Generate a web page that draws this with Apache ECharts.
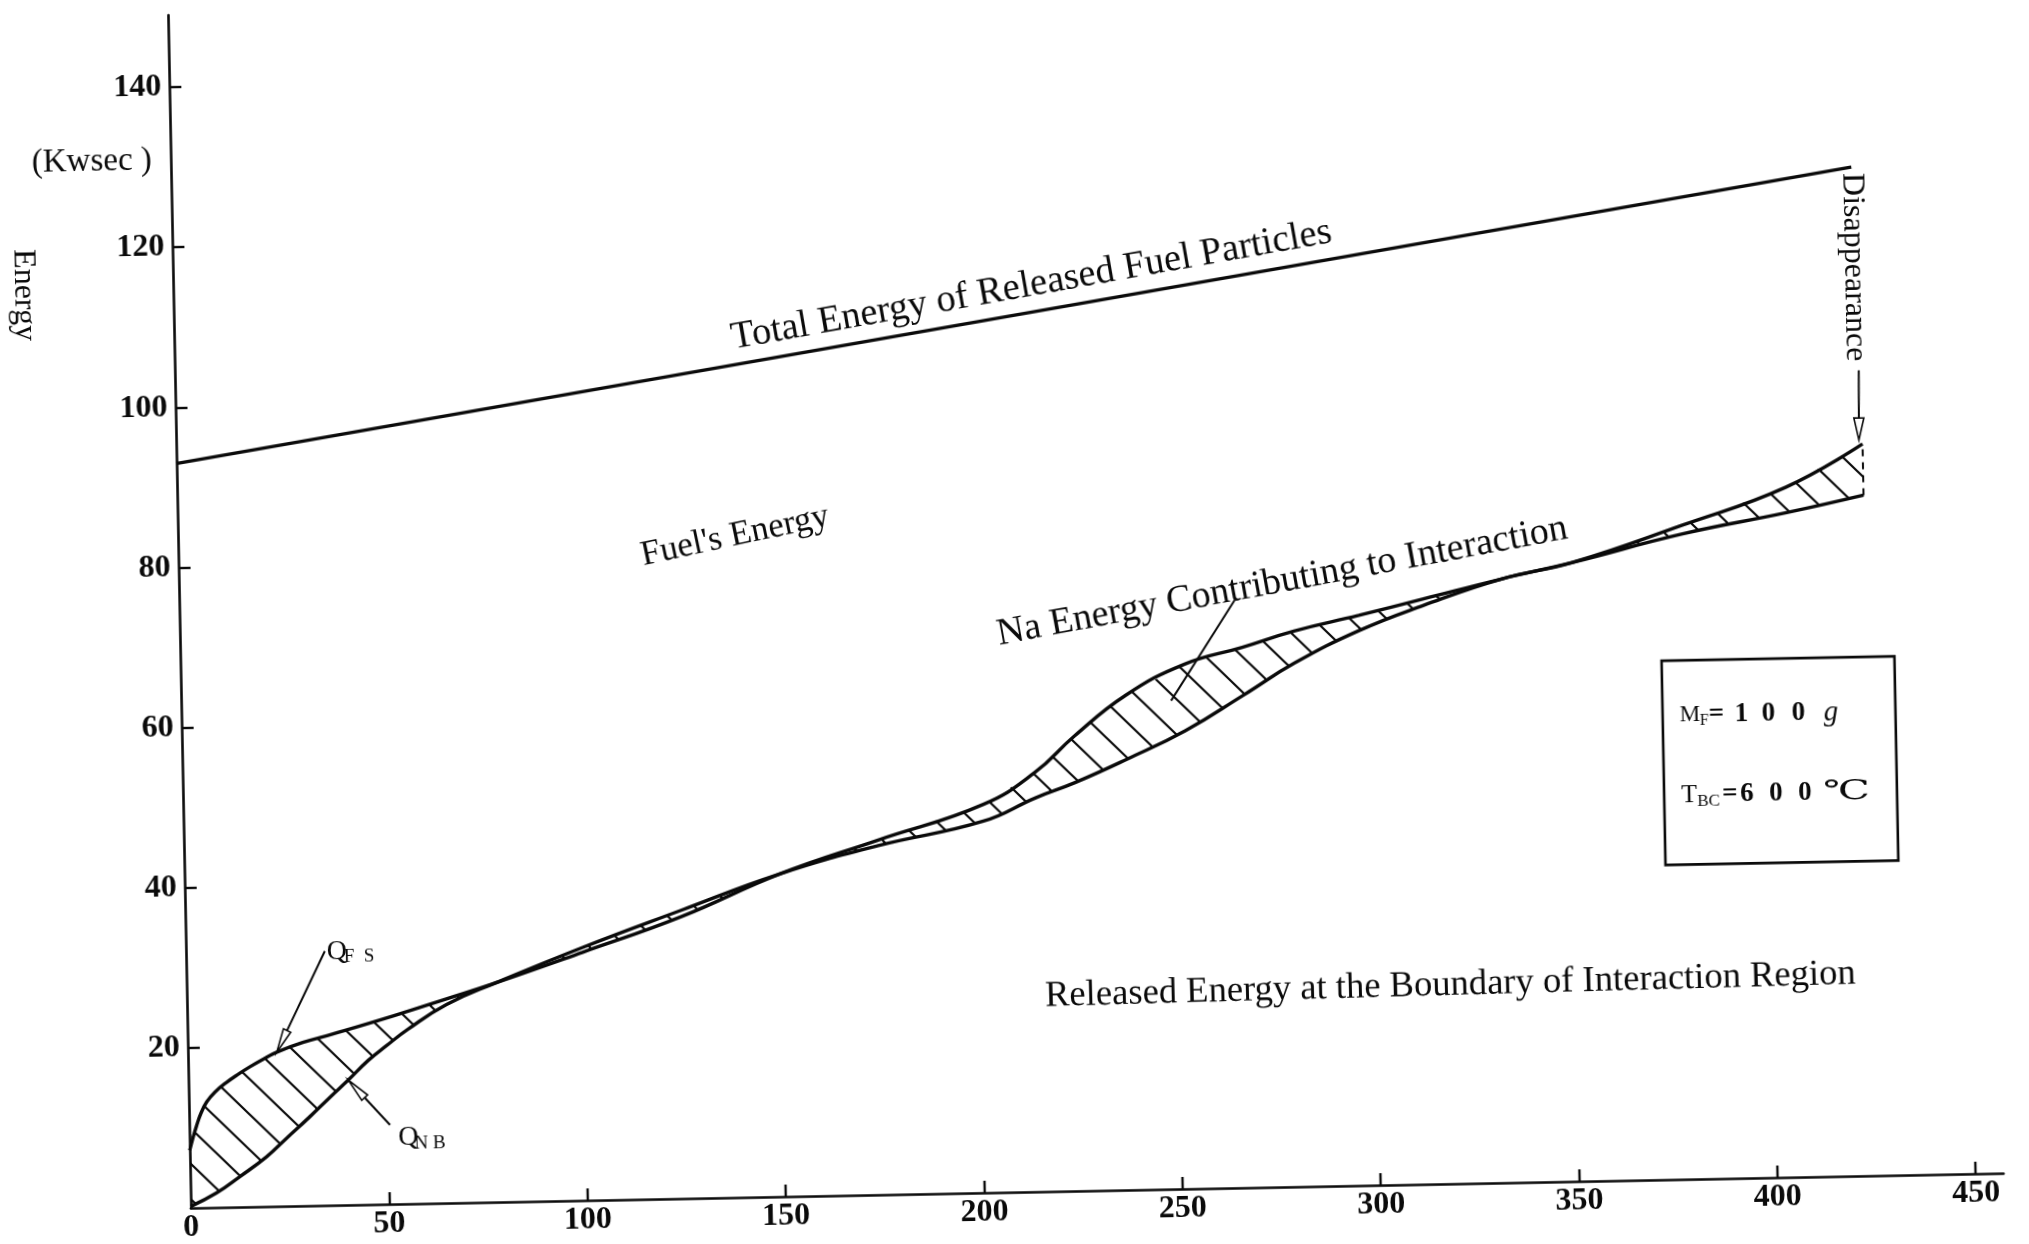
<!DOCTYPE html>
<html>
<head>
<meta charset="utf-8">
<script src="https://cdn.jsdelivr.net/npm/echarts@6/dist/echarts.min.js"></script>
<style>
  html, body { margin: 0; padding: 0; background: #fff; overflow: hidden; }
  /* the plate is printed slightly askew: rotate the whole figure about the axis origin */
  #chart { width: 2029px; height: 1244px; transform: rotate(-1.1deg); transform-origin: 191px 1215px; }
</style>
</head>
<body>
<div id="chart"></div>
<script>
// Axis tick values
const xTickValues = [0, 50, 100, 150, 200, 250, 300, 350, 400, 450];
const yTickValues = [20, 40, 60, 80, 100, 120, 140];

// Total energy of released fuel particles (Kwsec)
const totalEnergy = [[0, 93], [423.5, 126]];

// Q_FS curve
const qFS = [
  [0, 7.2], [0.9, 8.8], [1.8, 10.2], [3.0, 11.8], [4.5, 13.2], [6.6, 14.4], [9.6, 15.6],
  [12.6, 16.6], [15.6, 17.5], [18.9, 18.4], [22.4, 19.25], [29, 20.4], [36.7, 21.4],
  [51.9, 23.5], [65.4, 25.5], [78, 27.4], [100, 31.0], [125, 35.2],
  [150, 40.3], [175, 44.3], [201.7, 48.5], [214.9, 52.4], [224.9, 56.8], [238.1, 61.8],
  [252.9, 65.5], [267.7, 67.5], [280.8, 69.4], [297.2, 71.2], [313.6, 73.1], [333.3, 75.4],
  [351.3, 77.3], [379.2, 80.6], [405.5, 83.0], [425, 85.0]
];

// Q_NB curve
const qNB = [
  [0, 0.2], [6.5, 1.8], [12.5, 3.8], [19.3, 6.2], [24.5, 8.5], [30.4, 11.1],
  [35.6, 13.5], [40.3, 15.6], [45.4, 18.0], [50.1, 19.8], [55.6, 21.8], [65.4, 24.8],
  [78, 27.4], [100, 31.6], [125, 36.0], [150, 40.3], [175, 43.6], [201.6, 46.4],
  [214.9, 49.2], [224.9, 51.0], [238.1, 53.8], [252.9, 57.2], [267.7, 61.5], [280.8, 65.4],
  [297.2, 69.3], [313.6, 72.3], [333.3, 75.4], [351.3, 77.3], [379.2, 81.7], [405.5, 86.2],
  [425, 91.4]
];

const INK = '#0a0a0a';
const SERIF = '"Liberation Serif", "DejaVu Serif", "Noto Sans CJK JP", serif';
const deg = d => d * Math.PI / 180;

// diagonal hatching tile for the region between the two curves
const hatchTile = (() => {
  const T = 36, c = document.createElement('canvas');
  c.width = T; c.height = T;
  const g = c.getContext('2d');
  g.strokeStyle = INK; g.lineWidth = 2.2;
  g.beginPath();
  g.moveTo(-4, -4); g.lineTo(T + 4, T + 4);
  g.moveTo(T - 4, -4); g.lineTo(T + 4, 4);
  g.moveTo(-4, T - 4); g.lineTo(4, T + 4);
  g.stroke();
  return c;
})();

// annotation anchors, in axis units
const notes = {
  total:    { at: [216.3, 113.2], rot: 9.0, size: 38.5, text: 'Total Energy of Released Fuel Particles' },
  fuel:     { at: [140.4, 82.6],  rot: 11,  size: 35,   text: "Fuel's Energy" },
  na:       { at: [278.1, 75.6],  rot: 9.5, size: 38,   text: 'Na Energy Contributing to Interaction' },
  released: { at: [318.5, 24.8],  rot: 0.5, size: 36.6, text: 'Released Energy at the Boundary of Interaction Region' },
  naPointer: { from: [266, 73.4], to: [249.5, 61.0] },
  disappear: { at: [423.7, 113.5], size: 32, text: 'Disappearance', arrowFrom: [424.4, 100.6], arrowTo: [424.1, 91.9] },
  qfs: { label: [35.45, 31.7], arrowFrom: [35.0, 31.75], arrowTo: [22.4, 19.25] },
  qnb: { label: [52.6, 8.3],   arrowFrom: [50.6, 9.9],   arrowTo: [40.3, 15.6] },
  box: { corner1: [373.3, 64.8], corner2: [432.0, 39.3] }
};

function text(p, str, size, opt = {}) {
  return {
    type: 'text', x: p[0], y: p[1], rotation: opt.rot ? deg(opt.rot) : 0,
    scaleX: opt.scaleX || 1,
    style: {
      text: str, fill: INK,
      font: `${opt.style || ''} ${opt.weight || ''} ${size}px ${SERIF}`,
      align: opt.align || 'center', verticalAlign: 'middle'
    }
  };
}

function arrow(from, to, len, halfW) {
  const dx = to[0] - from[0], dy = to[1] - from[1];
  const L = Math.hypot(dx, dy), ux = dx / L, uy = dy / L;
  const bx = to[0] - ux * len, by = to[1] - uy * len;
  return [
    { type: 'line', shape: { x1: from[0], y1: from[1], x2: bx, y2: by }, style: { stroke: INK, lineWidth: 2 } },
    { type: 'polygon', shape: { points: [to, [bx - uy * halfW, by + ux * halfW], [bx + uy * halfW, by - ux * halfW]] },
      style: { fill: '#fff', stroke: INK, lineWidth: 1.6 } }
  ];
}

function renderHatch(params, api) {
  const pts = qFS.map(p => api.coord(p)).concat(qNB.slice().reverse().map(p => api.coord(p)));
  return { type: 'polygon', shape: { points: pts }, style: { fill: { image: hatchTile, repeat: 'repeat' }, stroke: null } };
}

function renderNotes(params, api) {
  const c = p => api.coord(p);
  const kids = [];
  ['total', 'fuel', 'na', 'released'].forEach(k => {
    const n = notes[k];
    kids.push(text(c(n.at), n.text, n.size, { rot: n.rot }));
  });
  // pointer into the hatched band
  const a = c(notes.naPointer.from), b = c(notes.naPointer.to);
  kids.push({ type: 'line', shape: { x1: a[0], y1: a[1], x2: b[0], y2: b[1] }, style: { stroke: INK, lineWidth: 2 } });

  // Disappearance: vertical caption, arrow and dashed closing line
  const d = notes.disappear;
  kids.push(text(c(d.at), d.text, d.size, { rot: -90 }));
  kids.push(...arrow(c(d.arrowFrom), c(d.arrowTo), 22, 5));
  const e1 = c(qFS[qFS.length - 1]), e2 = c(qNB[qNB.length - 1]);
  kids.push({ type: 'line', shape: { x1: e1[0], y1: e1[1], x2: e2[0], y2: e2[1] },
    style: { stroke: INK, lineWidth: 2, lineDash: [7, 6] } });

  // Q_FS and Q_NB labels
  const qf = c(notes.qfs.label);
  kids.push(text(qf, 'Q', 28, { align: 'left' }));
  kids.push(text([qf[0] + 17, qf[1] + 6], 'F  S', 19, { align: 'left' }));
  kids.push(...arrow(c(notes.qfs.arrowFrom), c(notes.qfs.arrowTo), 24, 4));
  const qn = c(notes.qnb.label);
  kids.push(text(qn, 'Q', 28, { align: 'left' }));
  kids.push(text([qn[0] + 16, qn[1] + 6], 'N B', 19, { align: 'left' }));
  kids.push(...arrow(c(notes.qnb.arrowFrom), c(notes.qnb.arrowTo), 24, 4));

  // condition box
  const p1 = c(notes.box.corner1), p2 = c(notes.box.corner2);
  kids.push({ type: 'rect', shape: { x: p1[0], y: p1[1], width: p2[0] - p1[0], height: p2[1] - p1[1] },
    style: { fill: null, stroke: INK, lineWidth: 2.6 } });
  const L1 = p1[1] + 55, L2 = p1[1] + 135, X0 = p1[0];
  kids.push(text([X0 + 17, L1], 'M', 23, { align: 'left' }));
  kids.push(text([X0 + 37, L1 + 6], 'F', 16, { align: 'left' }));
  kids.push(text([X0 + 46, L1], '=', 27, { align: 'left', weight: 'bold' }));
  [['1', 72], ['0', 99], ['0', 129]].forEach(t => kids.push(text([X0 + t[1], L1], t[0], 27, { align: 'left', weight: 'bold' })));
  kids.push(text([X0 + 161, L1], 'g', 29, { align: 'left', style: 'italic' }));
  kids.push(text([X0 + 17, L2], 'T', 26, { align: 'left' }));
  kids.push(text([X0 + 33, L2 + 6], 'BC', 17, { align: 'left' }));
  kids.push(text([X0 + 58, L2], '=', 27, { align: 'left', weight: 'bold' }));
  [['6', 76], ['0', 105], ['0', 134]].forEach(t => kids.push(text([X0 + t[1], L2], t[0], 27, { align: 'left', weight: 'bold' })));
  kids.push(text([X0 + 159, L2], '℃', 27, { align: 'left', scaleX: 1.55 }));

  return { type: 'group', children: kids };
}

const chart = echarts.init(document.getElementById('chart'), null, { renderer: 'canvas' });
const axisFont = { color: INK, fontFamily: SERIF, fontWeight: 'bold', fontSize: 32 };
const curveStyle = { color: INK, width: 3.4 };

chart.setOption({
  animation: false,
  backgroundColor: '#fff',
  grid: { left: 191, top: 15, width: 1813, height: 1200 },
  xAxis: {
    type: 'value', min: 0, max: 457,
    axisLine: { show: true, onZero: false, lineStyle: { color: INK, width: 2.6 } },
    axisTick: { show: true, inside: true, length: 12, lineStyle: { color: INK, width: 2.4 },
      customValues: xTickValues.filter(v => v > 0) },
    axisLabel: Object.assign({ customValues: xTickValues, margin: 4 }, axisFont),
    splitLine: { show: false }
  },
  yAxis: {
    type: 'value', min: 0, max: 149,
    axisLine: { show: true, onZero: false, lineStyle: { color: INK, width: 2.6 } },
    axisTick: { show: true, inside: true, length: 12, lineStyle: { color: INK, width: 2.4 },
      customValues: yTickValues },
    axisLabel: Object.assign({ customValues: yTickValues, margin: 8 }, axisFont),
    splitLine: { show: false }
  },
  graphic: [
    { type: 'text', x: 52, y: 160, style: { text: '(Kwsec )', font: `33px ${SERIF}`, fill: INK, align: 'left', verticalAlign: 'middle' } },
    { type: 'text', x: 41, y: 292, rotation: -Math.PI / 2, style: { text: 'Energy', font: `32px ${SERIF}`, fill: INK, align: 'center', verticalAlign: 'middle' } }
  ],
  series: [
    { type: 'custom', name: 'hatch', coordinateSystem: 'cartesian2d', silent: true, clip: false, z: 1,
      data: [[0, 0]], renderItem: renderHatch },
    { type: 'line', name: 'Total Energy', data: totalEnergy, symbol: 'none', lineStyle: curveStyle, z: 2 },
    { type: 'line', name: 'Q_FS', data: qFS, smooth: 0.45, symbol: 'none', lineStyle: curveStyle, z: 2 },
    { type: 'line', name: 'Q_NB', data: qNB, smooth: 0.45, symbol: 'none', lineStyle: curveStyle, z: 2 },
    { type: 'custom', name: 'notes', coordinateSystem: 'cartesian2d', silent: true, clip: false, z: 3,
      data: [[0, 0]], renderItem: renderNotes }
  ]
});
</script>
</body>
</html>
